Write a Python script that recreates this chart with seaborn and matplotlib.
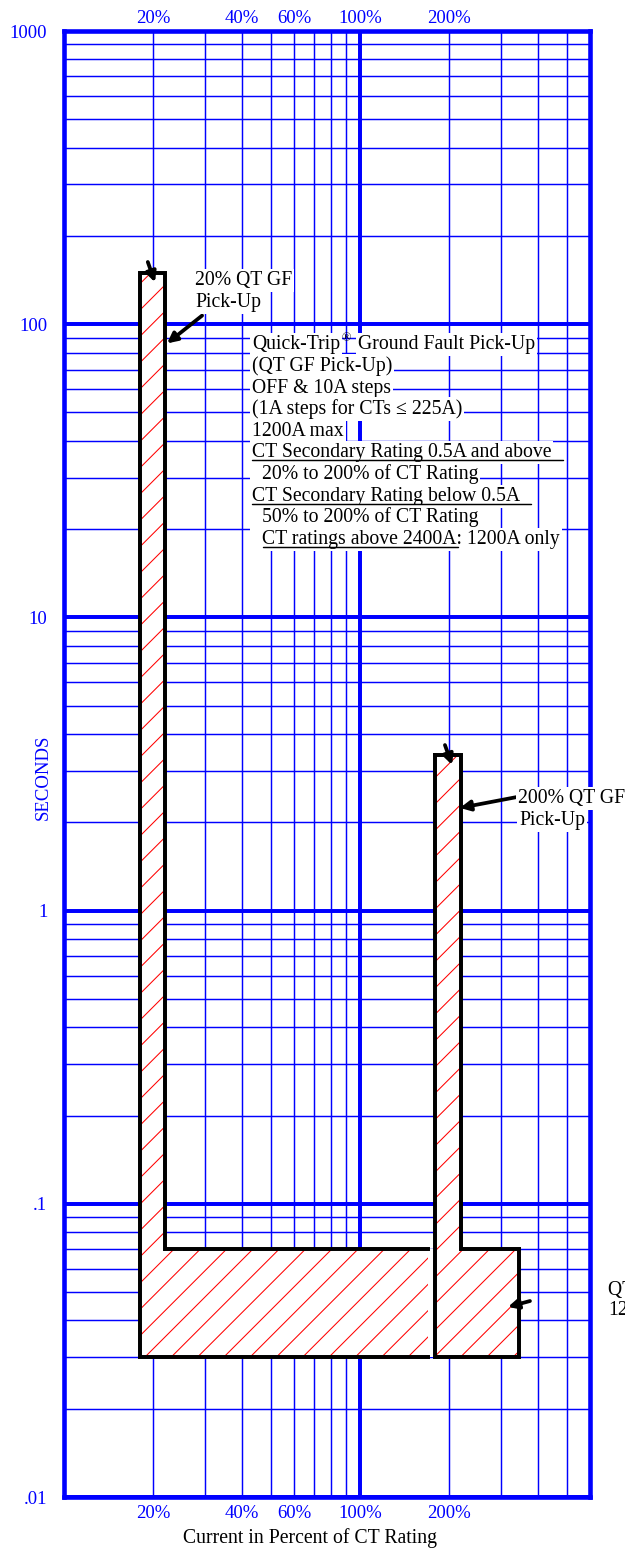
import numpy as np
import pandas as pd
import matplotlib
matplotlib.use("Agg")
import matplotlib.pyplot as plt
import seaborn as sns
from matplotlib.lines import Line2D
from matplotlib.collections import LineCollection
from matplotlib.ticker import LogLocator, NullFormatter

# values (percent of CT rating / seconds)
low_band_pct = [18, 22]        # 20% QT GF pick-up band
high_band_pct = [180, 220]     # 200% QT GF pick-up band
low_band_top_s = 150
high_band_top_s = 3.4
delay_band_s = [0.03, 0.07]    # QT GF delay band
low_band_end_pct = 170
high_band_end_pct = 345

x_tick_pct = [20, 40, 60, 100, 200]
x_tick_labels = ["20%", "40%", "60%", "100%", "200%"]
y_tick_s = [0.01, 0.1, 1, 10, 100, 1000]
y_tick_labels = [".01", ".1", "1", "10", "100", "1000"]

note_lines = [
    "(QT GF Pick-Up)",
    "OFF & 10A steps",
    "(1A steps for CTs \u2264 225A)",
    "1200A max",
    "CT Secondary Rating 0.5A and above",
    "  20% to 200% of CT Rating",
    "CT Secondary Rating below 0.5A",
    "  50% to 200% of CT Rating",
    "  CT ratings above 2400A: 1200A only",
]

BLUE = "#0000ff"
W, H = 626, 1550
DPI = 150


def fx(px):
    return px / W


def fy(py):
    return 1 - py / H


sns.set_theme(style="white")
plt.rcParams["font.family"] = ["Liberation Serif", "DejaVu Serif"]
plt.rcParams["text.color"] = "black"

fig = plt.figure(figsize=(W / DPI, H / DPI), dpi=DPI)
ax = fig.add_axes([64 / W, 1 - 1497 / H, 526 / W, 1466 / H])

# outlines of the two pick-up regions
left_x = [low_band_end_pct, low_band_pct[0], low_band_pct[0], low_band_pct[1],
          low_band_pct[1], low_band_end_pct]
left_y = [delay_band_s[0], delay_band_s[0], low_band_top_s, low_band_top_s,
          delay_band_s[1], delay_band_s[1]]
right_x = [high_band_pct[0], high_band_pct[0], high_band_end_pct, high_band_end_pct,
           high_band_pct[1], high_band_pct[1], high_band_pct[0]]
right_y = [high_band_top_s, delay_band_s[0], delay_band_s[0], delay_band_s[1],
           delay_band_s[1], high_band_top_s, high_band_top_s]

ax.fill_betweenx(delay_band_s, low_band_end_pct, high_band_pct[0], color="white",
                 lw=0, zorder=2)

# red 45 degree hatching, 26 px apart, clipped to each region
offsets = np.arange(-48 - 26.3 * 70, 700, 26.3)
segs = [[(c, 0), (c + 1600, 1600)] for c in offsets]
for xs, ys in [(left_x, left_y), (right_x, right_y)]:
    patch = ax.fill(xs, ys, facecolor="white", lw=0, zorder=2)[0]
    hatch = LineCollection(segs, colors="red", linewidths=0.5, transform=None,
                           zorder=2.5)
    ax.add_collection(hatch, autolim=False)
    hatch.set_clip_path(patch)

    df = pd.DataFrame({"pct": xs, "sec": ys})
    sns.lineplot(data=df, x="pct", y="sec", sort=False, estimator=None, ax=ax,
                 color="black", lw=1.9, zorder=3, solid_joinstyle="miter",
                 solid_capstyle="projecting")

ax.set_xscale("log")
ax.set_yscale("log")
ax.set_xlim(10, 600)
ax.set_ylim(0.01, 1000)
ax.set_xlabel("")
ax.set_ylabel("")

ax.set_xticks(x_tick_pct, x_tick_labels)
ax.xaxis.set_minor_locator(LogLocator(base=10, subs=np.arange(2, 10), numticks=100))
ax.xaxis.set_minor_formatter(NullFormatter())
ax.set_yticks(y_tick_s, y_tick_labels)
ax.yaxis.set_minor_locator(LogLocator(base=10, subs=np.arange(2, 10), numticks=100))
ax.yaxis.set_minor_formatter(NullFormatter())
ax.tick_params(which="both", length=0)
ax.tick_params(axis="x", pad=3.8, labelsize=9, labelcolor=BLUE)
ax.tick_params(axis="y", pad=8, labelsize=9, labelcolor=BLUE)

top = ax.secondary_xaxis("top")
top.set_xticks(x_tick_pct, x_tick_labels)
top.xaxis.set_minor_formatter(NullFormatter())
top.tick_params(which="both", length=0, pad=1.8, labelsize=9, labelcolor=BLUE)
top.spines["top"].set_visible(False)

ax.set_axisbelow(True)
ax.grid(which="major", axis="y", color=BLUE, lw=1.9)
ax.grid(which="minor", axis="y", color=BLUE, lw=0.7)
ax.grid(which="both", axis="x", color=BLUE, lw=0.7)
ax.axvline(100, color=BLUE, lw=1.9, zorder=1)
for sp in ax.spines.values():
    sp.set_color(BLUE)
    sp.set_linewidth(2.2)
    sp.set_zorder(5)

# arrows
arrow = dict(arrowstyle="-|>", color="black", lw=1.8, mutation_scale=10,
             shrinkA=0, shrinkB=0)
for tip, tail in [((20.3, 139), (19.2, 163)),
                  ((22.3, 86), (29.3, 107)),
                  ((205, 3.14), (194, 3.67)),
                  ((218, 2.24), (340, 2.44)),
                  ((317, 0.0445), (376, 0.0466))]:
    ax.annotate("", xy=tip, xytext=tail, arrowprops=arrow, annotation_clip=False,
                zorder=6)

box = dict(boxstyle="square,pad=0.1", fc="white", ec="none")
txt = dict(fontsize=9.5, color="black", va="baseline", ha="left", bbox=box)

fig.text(fx(195), fy(285), "20% QT GF", **txt)
fig.text(fx(195), fy(307), "Pick-Up", **txt)
fig.text(fx(518), fy(803), "200% QT GF", **txt)
fig.text(fx(519), fy(825), "Pick-Up", **txt)
# label running off the right edge, as in the source sheet
fig.text(fx(608), fy(1295), "QT GF", **txt)
fig.text(fx(608), fy(1315), "1200A", **txt)

t1 = fig.text(fx(252), fy(349), "Quick-Trip", **txt)
t2 = ax.annotate("\u00ae", xy=(1, 1), xycoords=t1, xytext=(0.5, 1.5),
                 textcoords="offset points", fontsize=6, ha="left", va="top",
                 color="black")
ax.annotate("Ground Fault Pick-Up", xy=(1, 0), xycoords=(t2, t1), xytext=(3.5, 0),
            textcoords="offset points", fontsize=9.5, ha="left", va="bottom",
            color="black", bbox=box)

baseline = 371
for line in note_lines:
    fig.text(fx(252), fy(baseline), line, **txt)
    baseline += 21.6

# underlines
for x0, x1, y in [(252, 563, 460), (252, 531, 504), (263, 458, 547)]:
    fig.add_artist(Line2D([fx(x0), fx(x1)], [fy(y), fy(y)], color="black", lw=0.7,
                          zorder=10))

fig.text(fx(43), fy(777), "SECONDS", rotation=90, ha="center", va="center",
         fontsize=9, color=BLUE)
fig.text(fx(310), fy(1543), "Current in Percent of CT Rating", ha="center",
         va="baseline", fontsize=9.5, color="black")

fig.savefig("out.png", dpi=DPI)
